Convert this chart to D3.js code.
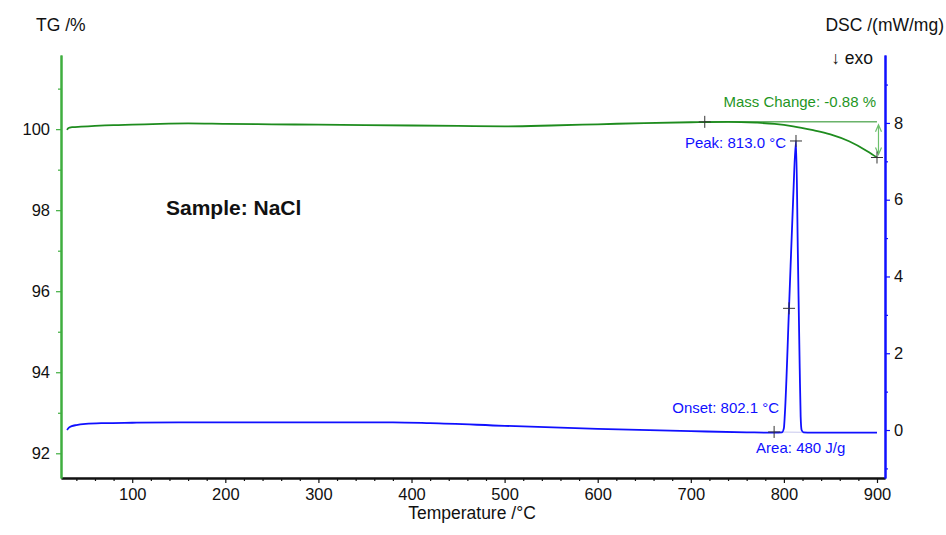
<!DOCTYPE html>
<html>
<head>
<meta charset="utf-8">
<script src="https://cdn.jsdelivr.net/npm/d3@7"></script>
<style>
  body { margin: 0; background: #fff; }
  svg text { font-family: "Liberation Sans", Arial, sans-serif; }
</style>
</head>
<body>
<svg id="chart"></svg>
<script>
// temperature axis
var xMajor = [100, 200, 300, 400, 500, 600, 700, 800, 900];
var tgMajor = [92, 94, 96, 98, 100];
var tgMinor = [93, 95, 97, 99, 101];
var dscMajor = [0, 2, 4, 6, 8];
var dscMinor = [-1, 1, 3, 5, 7, 9];

// TG curve (%)
var tgTemp = [30, 31, 33, 36, 45, 60, 80, 100, 130, 160, 200, 250, 300, 350, 400, 450, 500, 550, 600, 650, 700, 740, 770, 790, 810, 830, 850, 870, 890, 900];
var tgValue = [99.98, 100.02, 100.04, 100.05, 100.06, 100.08, 100.10, 100.11, 100.13, 100.14, 100.13, 100.12, 100.11, 100.10, 100.09, 100.08, 100.07, 100.09, 100.12, 100.15, 100.17, 100.18, 100.16, 100.13, 100.07, 99.98, 99.87, 99.70, 99.45, 99.30];

// DSC curve (mW/mg)
var dscTemp = [30, 32, 35, 40, 50, 70, 100, 150, 200, 300, 380, 420, 500, 600, 700, 760, 790, 798, 800, 801, 805.5, 810, 813, 815, 817, 818, 819, 821, 830, 860, 900];
var dscValue = [0.0, 0.06, 0.1, 0.13, 0.16, 0.18, 0.19, 0.2, 0.2, 0.2, 0.2, 0.18, 0.11, 0.03, -0.03, -0.06, -0.07, -0.06, 0.05, 0.4, 3.17, 6.05, 7.53, 4.6, 1.6, 0.35, 0.0, -0.06, -0.07, -0.07, -0.07];

// evaluation results
var massStart = [715, 100.18];
var massEnd = [900, 99.30];
var peakPoint = [813, 7.53];
var inflectionPoint = [805.5, 3.17];
var onsetPoint = [789.5, -0.05];
var areaEnd = [822, -0.06];

var margin = {top: 55, right: 61, bottom: 57, left: 61},
    width = 946 - margin.left - margin.right,
    height = 535 - margin.top - margin.bottom;

var green = "#1e8c1e", axisGreen = "#3fae3f", blue = "#1010ff";

var svg = d3.select("#chart")
    .attr("width", 946)
    .attr("height", 535);

var g = svg.append("g")
    .attr("transform", "translate(" + margin.left + "," + margin.top + ")");

var x = d3.scaleLinear().domain([23.5, 908.6]).range([0, width]);
var yTG = d3.scaleLinear().domain([91.39, 101.83]).range([height, 0]);
var yDSC = d3.scaleLinear().domain([-1.25, 9.77]).range([height, 0]);

// minor ticks every 20 degrees
var xMinor = d3.range(40, 901, 20).filter(function(d) { return d % 100 !== 0; });

function styleAxis(sel, color) {
  sel.select(".domain").attr("stroke", color).attr("stroke-width", 2);
  sel.selectAll(".tick line").attr("stroke", color).attr("stroke-width", 1.2);
  sel.selectAll(".tick text")
    .attr("fill", "#111")
    .style("font-size", "16.5px");
}

// x axis
g.append("g")
  .attr("transform", "translate(0," + height + ")")
  .call(d3.axisBottom(x).tickValues(xMinor).tickSize(3).tickSizeOuter(0).tickFormat(""))
  .call(styleAxis, "#111");
g.append("g")
  .attr("transform", "translate(0," + height + ")")
  .call(d3.axisBottom(x).tickValues(xMajor).tickSize(5).tickSizeOuter(0).tickPadding(5))
  .call(styleAxis, "#111");

// TG axis (left)
g.append("g")
  .call(d3.axisLeft(yTG).tickValues(tgMinor).tickSize(3).tickSizeOuter(0).tickFormat(""))
  .call(styleAxis, axisGreen);
g.append("g")
  .call(d3.axisLeft(yTG).tickValues(tgMajor).tickSize(5).tickSizeOuter(0).tickPadding(6))
  .call(styleAxis, axisGreen);

// DSC axis (right)
g.append("g")
  .attr("transform", "translate(" + width + ",0)")
  .call(d3.axisRight(yDSC).tickValues(dscMinor).tickSize(3).tickSizeOuter(0).tickFormat(""))
  .call(styleAxis, blue);
g.append("g")
  .attr("transform", "translate(" + width + ",0)")
  .call(d3.axisRight(yDSC).tickValues(dscMajor).tickSize(5).tickSizeOuter(0).tickPadding(4))
  .call(styleAxis, blue);

// axis titles
svg.append("text")
  .attr("x", 36).attr("y", 31)
  .style("font-size", "17.5px").attr("fill", "#111")
  .text("TG /%");
svg.append("text")
  .attr("x", 944).attr("y", 31)
  .attr("text-anchor", "end")
  .style("font-size", "17.5px").attr("fill", "#111")
  .text("DSC /(mW/mg)");
svg.append("text")
  .attr("x", 873).attr("y", 64)
  .attr("text-anchor", "end")
  .style("font-size", "17.5px").attr("fill", "#111")
  .text("\u2193 exo");
svg.append("text")
  .attr("x", 472).attr("y", 519)
  .attr("text-anchor", "middle")
  .style("font-size", "17.5px").attr("fill", "#111")
  .text("Temperature /\u00B0C");

svg.append("text")
  .attr("x", 166).attr("y", 215)
  .style("font-size", "21px").style("font-weight", "bold").attr("fill", "#111")
  .text("Sample: NaCl");

// DSC area baseline
g.append("line")
  .attr("x1", x(onsetPoint[0])).attr("y1", yDSC(onsetPoint[1]))
  .attr("x2", x(areaEnd[0])).attr("y2", yDSC(areaEnd[1]))
  .attr("stroke", "#c8c8ee").attr("stroke-width", 1);

// curves
var tgLine = d3.line()
  .x(function(d, i) { return x(tgTemp[i]); })
  .y(function(d) { return yTG(d); })
  .curve(d3.curveMonotoneX);
g.append("path")
  .datum(tgValue)
  .attr("d", tgLine)
  .attr("fill", "none")
  .attr("stroke", green)
  .attr("stroke-width", 1.8);

var dscLine = d3.line()
  .x(function(d, i) { return x(dscTemp[i]); })
  .y(function(d) { return yDSC(d); })
  .curve(d3.curveMonotoneX);
g.append("path")
  .datum(dscValue)
  .attr("d", dscLine)
  .attr("fill", "none")
  .attr("stroke", blue)
  .attr("stroke-width", 1.8);

// mass change reference line and arrow
g.append("line")
  .attr("x1", x(massStart[0])).attr("y1", yTG(massStart[1]))
  .attr("x2", x(massEnd[0])).attr("y2", yTG(massStart[1]))
  .attr("stroke", green).attr("stroke-width", 1);

var ax = x(massEnd[0]) + 1.5,
    aTop = yTG(massStart[1]) + 3,
    aBot = yTG(massEnd[1]) - 3;
g.append("path")
  .attr("d", "M" + ax + "," + aTop + "V" + aBot +
             "M" + (ax - 3) + "," + (aTop + 7) + "L" + ax + "," + aTop + "L" + (ax + 3) + "," + (aTop + 7) +
             "M" + (ax - 3) + "," + (aBot - 7) + "L" + ax + "," + aBot + "L" + (ax + 3) + "," + (aBot - 7))
  .attr("fill", "none")
  .attr("stroke", "#6cc06c")
  .attr("stroke-width", 1.2);

// cross markers
var crosses = [
  [x(massStart[0]), yTG(massStart[1])],
  [x(massEnd[0]), yTG(massEnd[1])],
  [x(peakPoint[0]), yDSC(peakPoint[1])],
  [x(inflectionPoint[0]), yDSC(inflectionPoint[1])],
  [x(onsetPoint[0]), yDSC(onsetPoint[1])]
];
g.selectAll(".cross")
  .data(crosses)
  .enter()
  .append("path")
  .attr("class", "cross")
  .attr("d", function(d) {
    return "M" + (d[0] - 6) + "," + d[1] + "H" + (d[0] + 6) +
           "M" + d[0] + "," + (d[1] - 6) + "V" + (d[1] + 6);
  })
  .attr("stroke", "#333")
  .attr("stroke-width", 1);

// result labels
g.append("text")
  .attr("x", x(massEnd[0]) - 1).attr("y", yTG(massStart[1]) - 15)
  .attr("text-anchor", "end")
  .style("font-size", "15px").attr("fill", "#1f961f")
  .text("Mass Change: -0.88 %");
g.append("text")
  .attr("x", x(peakPoint[0]) - 10).attr("y", yDSC(peakPoint[1]) + 7)
  .attr("text-anchor", "end")
  .style("font-size", "15px").attr("fill", blue)
  .text("Peak: 813.0 \u00B0C");
g.append("text")
  .attr("x", x(onsetPoint[0]) + 5).attr("y", yDSC(onsetPoint[1]) - 19)
  .attr("text-anchor", "end")
  .style("font-size", "15px").attr("fill", blue)
  .text("Onset: 802.1 \u00B0C");
g.append("text")
  .attr("x", x(onsetPoint[0]) - 18).attr("y", yDSC(onsetPoint[1]) + 21)
  .style("font-size", "15px").attr("fill", blue)
  .text("Area: 480 J/g");
</script>
</body>
</html>
